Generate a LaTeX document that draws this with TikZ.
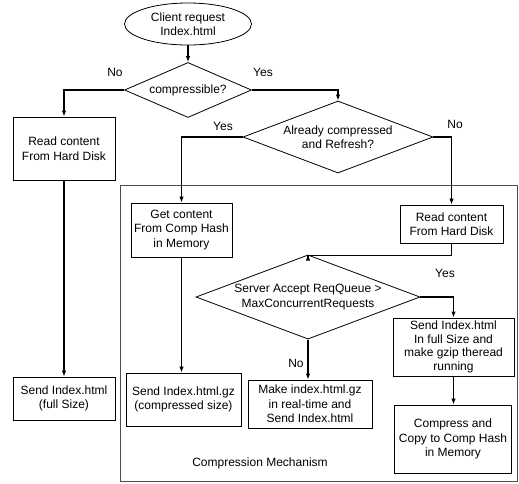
\documentclass[tikz,border=0pt]{standalone}
\usepackage{fontspec}
\setmainfont{Liberation Sans}
\usetikzlibrary{shapes.geometric,arrows.meta}
\begin{document}
\begin{tikzpicture}[x=1pt,y=-1pt,
  every node/.style={font=\fontsize{12}{14.5}\selectfont, align=center, inner sep=0pt},
  procbox/.style={draw, line width=0.8pt, rectangle},
  decision/.style={draw, line width=0.8pt, diamond, shape aspect=2.5},
  terminal/.style={draw, line width=0.8pt, ellipse},
  arr/.style={line width=1.2pt, -{Latex[length=6pt,width=4.5pt]}},
  region/.style={draw=black!70, line width=0.6pt}]
\useasboundingbox (0,0) rectangle (519,483);

% compression mechanism region
\draw[region] (120,185) rectangle (517,481);
\node (cm) at (260,463) {Compression Mechanism};

% nodes
\node[terminal, minimum width=127pt, minimum height=42pt] (start) at (188,24) {Client request\\Index.html};
\node[decision, minimum width=127pt, minimum height=55pt] (d1) at (188,90) {compressible?};
\node[procbox, minimum width=102pt, minimum height=63pt] (rd1) at (64,148.5) {Read content\\From Hard Disk};
\node[decision, minimum width=190pt, minimum height=72pt] (d2) at (338,137) {Already compressed\\and Refresh?};
\node[procbox, minimum width=101pt, minimum height=54pt] (gc) at (181.5,230) {Get content\\From Comp Hash\\in Memory};
\node[procbox, minimum width=103pt, minimum height=38pt] (rd2) at (451.5,224) {Read content\\From Hard Disk};
\node[decision, minimum width=224pt, minimum height=72pt] (d3) at (308,297) {Server Accept ReqQueue \textgreater\\MaxConcurrentRequests};
\node[procbox, minimum width=121pt, minimum height=58pt, font=\fontsize{12}{13.5}\selectfont] (sf) at (453.5,347) {Send Index.html\\In full Size and\\make gzip theread\\running};
\node[procbox, minimum width=117pt, minimum height=68pt] (cc) at (453,439) {Compress and\\Copy to Comp Hash\\in Memory};
\node[procbox, minimum width=102pt, minimum height=43pt] (sf1) at (64,398.5) {Send Index.html\\(full Size)};
\node[procbox, minimum width=115pt, minimum height=53pt] (sc) at (183.5,399.5) {Send Index.html.gz\\(compressed size)};
\node[procbox, minimum width=124pt, minimum height=48pt] (mk) at (310,404) {Make index.html.gz\\in real-time and\\Send Index.html};

% labels
\node (l1) at (115,72) {No};
\node (l2) at (263,72) {Yes};
\node (l3) at (223,126) {Yes};
\node (l4) at (455,124) {No};
\node (l5) at (445,273) {Yes};
\node (l6) at (296,363) {No};

% connectors
\draw[arr] (start.south) -- (d1.north);
\draw[arr] (d1.west) -| (rd1.north);
\draw[arr] (d1.east) -| (d2.north);
\draw[arr] (d2.west) -| (gc.north);
\draw[arr] (d2.east) -| (rd2.north);
\draw[arr] (rd2.south) -- ++(0,12) -| (d3.north);
\draw[arr] (d3.east) -| (sf.north);
\draw[arr] (sf.south) -- (sf.south |- cc.north);
\draw[arr] (d3.south) -- (d3.south |- mk.north);
\draw[arr] (gc.south) -- (gc.south |- sc.north);
\draw[arr] (rd1.south) -- (sf1.north);
\end{tikzpicture}
\end{document}
